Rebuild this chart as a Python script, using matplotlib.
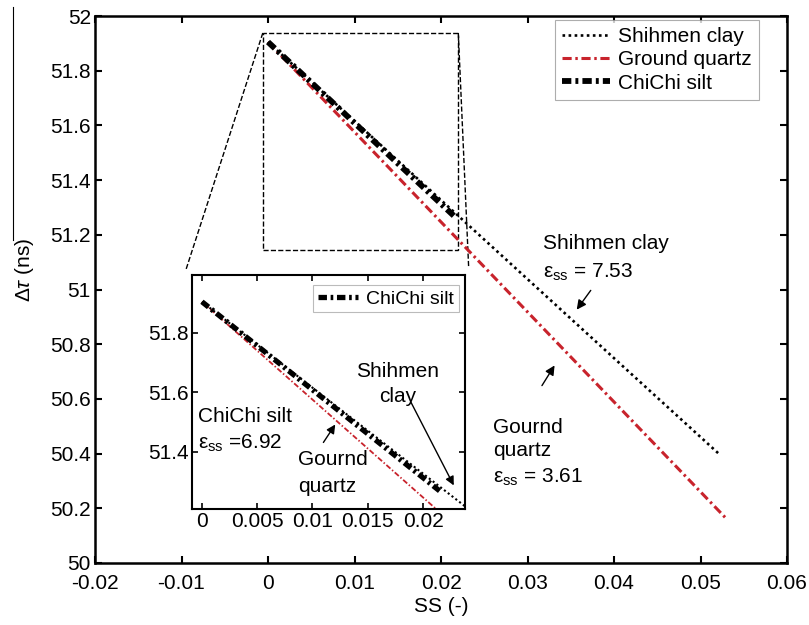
import numpy as np
import matplotlib
matplotlib.use('Agg')
import matplotlib.pyplot as plt
from matplotlib.patches import Rectangle
from matplotlib.lines import Line2D

plt.rcParams['font.family'] = ['Liberation Sans', 'DejaVu Sans']
plt.rcParams['mathtext.fontset'] = 'custom'
plt.rcParams['mathtext.rm'] = 'Liberation Sans'
plt.rcParams['mathtext.it'] = 'Liberation Sans:italic'

# data
shihmen_ss = [0, 0.01, 0.02, 0.03, 0.04, 0.0521]
shihmen_dt = [51.905, 51.616, 51.327, 51.038, 50.749, 50.40]
quartz_ss = [0, 0.01, 0.02, 0.03, 0.04, 0.0529]
quartz_dt = [51.905, 51.576, 51.247, 50.918, 50.589, 50.165]
chichi_ss = [0, 0.005, 0.01, 0.015, 0.0215]
chichi_dt = [51.905, 51.757, 51.609, 51.461, 51.269]

xticks = [-0.02, -0.01, 0, 0.01, 0.02, 0.03, 0.04, 0.05, 0.06]
xticklabels = ['-0.02', '-0.01', '0', '0.01', '0.02', '0.03', '0.04', '0.05', '0.06']
yticks = [50, 50.2, 50.4, 50.6, 50.8, 51, 51.2, 51.4, 51.6, 51.8, 52]
yticklabels = ['50', '50.2', '50.4', '50.6', '50.8', '51', '51.2', '51.4', '51.6', '51.8', '52']
in_xticks = [0, 0.005, 0.01, 0.015, 0.02]
in_xticklabels = ['0', '0.005', '0.01', '0.015', '0.02']
in_yticks = [51.4, 51.6, 51.8]
in_yticklabels = ['51.4', '51.6', '51.8']

red = '#c8232c'
fs = 15

fig = plt.figure(figsize=(8.09, 6.25), dpi=100)
ax = fig.add_axes([95/809, 1-563/625, 692/809, 547/625])

ax.plot(quartz_ss, quartz_dt, color=red, lw=2.2, dashes=(3, 1.2, 0.8, 1.2), label='Ground quartz', zorder=2)
ax.plot(shihmen_ss, shihmen_dt, color='k', lw=1.9, dashes=(1, 1.3), label='Shihmen clay', zorder=3)
ax.plot(chichi_ss, chichi_dt, color='k', lw=4.2, dashes=(1.6, 0.7, 0.5, 0.7), label='ChiChi silt', zorder=4)

ax.set_xlim(-0.02, 0.06)
ax.set_ylim(50, 52)
ax.set_xticks(xticks)
ax.set_xticklabels(xticklabels)
ax.set_yticks(yticks)
ax.set_yticklabels(yticklabels)
ax.tick_params(direction='in', top=True, right=True, length=5, width=1.5, labelsize=fs)
ax.tick_params(axis='x', pad=8)
ax.tick_params(axis='y', pad=3)
for s in ax.spines.values():
    s.set_linewidth(1.8)

h, l = ax.get_legend_handles_labels()
order = [1, 0, 2]
leg = ax.legend([h[i] for i in order], [l[i] for i in order], loc='upper right',
                bbox_to_anchor=(0.9595, 0.9927), borderaxespad=0, fontsize=fs,
                fancybox=False, edgecolor='#999999', handlelength=2.3,
                handletextpad=0.4, labelspacing=0.2, borderpad=0.35)
leg.get_frame().set_linewidth(0.8)

ax.set_xlabel('SS (-)', fontsize=fs, labelpad=3)
fig.text(24/809, 1-270/625, r'$\Delta\tau$ (ns)', rotation=90, ha='center', va='center', fontsize=fs)
fig.add_artist(Line2D([13/809, 13/809], [1-7/625, 1-240/625], color='k', lw=0.8))

# zoom box and connectors
ax.add_patch(Rectangle((-0.0006, 51.144), 0.0226, 0.794, fill=False, ls='--', lw=1, ec='k', zorder=1))
ax.plot([-0.0006, -0.0095], [51.938, 51.071], 'k--', lw=1, zorder=1)
ax.plot([0.022, 0.0232], [51.938, 51.079], 'k--', lw=1, zorder=1)

# main annotations
ax.text(0.0318, 51.17, 'Shihmen clay', fontsize=fs, va='center')
ax.text(0.0318, 51.064, 'ε$_{\\rm ss}$ = 7.53', fontsize=fs, va='center')
ax.annotate('', xy=(0.0355, 50.918), xytext=(0.0375, 51.005),
            arrowprops=dict(arrowstyle='-|>', color='k', lw=1, mutation_scale=14))
ax.text(0.026, 50.497, 'Gournd', fontsize=fs, va='center')
ax.text(0.026, 50.413, 'quartz', fontsize=fs, va='center')
ax.text(0.026, 50.314, 'ε$_{\\rm ss}$ = 3.61', fontsize=fs, va='center')
ax.annotate('', xy=(0.0333, 50.731), xytext=(0.0315, 50.640),
            arrowprops=dict(arrowstyle='-|>', color='k', lw=1, mutation_scale=14))

# inset
ins = fig.add_axes([192/809, 1-509/625, 273/809, 234/625])
ins.plot(quartz_ss, quartz_dt, color=red, lw=1.3, dashes=(3, 1.2, 0.8, 1.2))
ins.plot(shihmen_ss, shihmen_dt, color='k', lw=1.5, dashes=(1, 1.3))
ins.plot(chichi_ss, chichi_dt, color='k', lw=3.8, dashes=(1.6, 0.7, 0.5, 0.7), label='ChiChi silt')
ins.set_xlim(-0.0009, 0.0238)
ins.set_ylim(51.208, 51.995)
ins.set_xticks(in_xticks)
ins.set_xticklabels(in_xticklabels)
ins.set_yticks(in_yticks)
ins.set_yticklabels(in_yticklabels)
ins.tick_params(direction='in', top=True, right=True, length=4, width=1.2, labelsize=fs, pad=2)
for s in ins.spines.values():
    s.set_linewidth(1.5)
ileg = ins.legend(loc='upper right', bbox_to_anchor=(0.978, 0.957), borderaxespad=0,
                  fontsize=14, fancybox=False, edgecolor='#aaaaaa', handlelength=2.1,
                  handletextpad=0.4, borderpad=0.25)
ileg.get_frame().set_linewidth(0.8)

ins.text(-0.00036, 51.518, 'ChiChi silt', fontsize=fs, va='center')
ins.text(-0.00036, 51.43, 'ε$_{\\rm ss}$ =6.92', fontsize=fs, va='center')
ins.text(0.00868, 51.373, 'Gournd', fontsize=fs, va='center')
ins.text(0.00868, 51.282, 'quartz', fontsize=fs, va='center')
ins.annotate('', xy=(0.0122, 51.50), xytext=(0.01085, 51.424),
             arrowprops=dict(arrowstyle='-|>', color='k', lw=1, mutation_scale=13))
ins.text(0.0177, 51.669, 'Shihmen', fontsize=fs, va='center', ha='center')
ins.text(0.0177, 51.585, 'clay', fontsize=fs, va='center', ha='center')
ins.annotate('', xy=(0.0229, 51.279), xytext=(0.0188, 51.575),
             arrowprops=dict(arrowstyle='-|>', color='k', lw=1, mutation_scale=13))

fig.savefig('out.png', dpi=100)
